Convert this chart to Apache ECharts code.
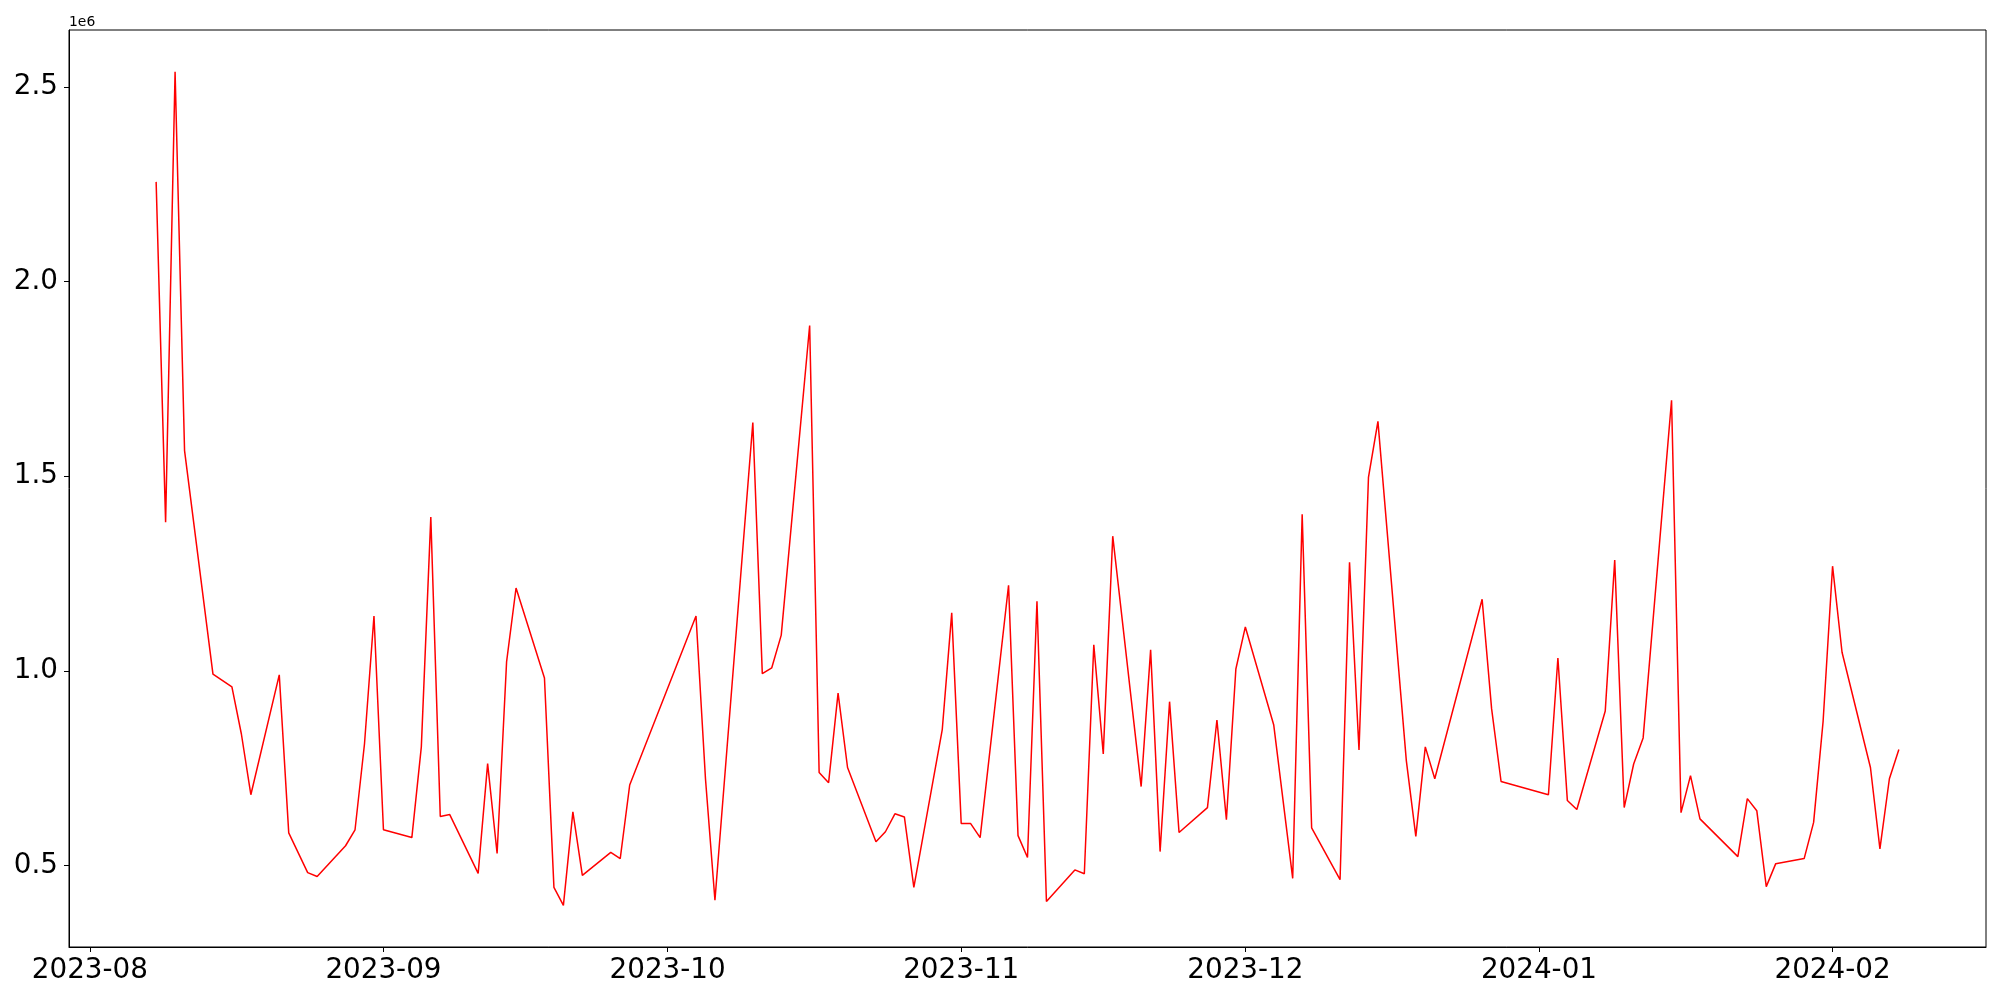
<!DOCTYPE html>
<html>
<head>
<meta charset="utf-8">
<script src="https://cdn.jsdelivr.net/npm/echarts@6/dist/echarts.min.js"></script>
<style>
  html, body { margin: 0; padding: 0; background: #fff; }
  #chart { width: 2000px; height: 1000px; }
</style>
</head>
<body>
<div id="chart"></div>
<script>
const dates = [
  '2023-08-08','2023-08-09','2023-08-10','2023-08-11','2023-08-14','2023-08-16','2023-08-17','2023-08-18',
  '2023-08-21','2023-08-22','2023-08-24','2023-08-25','2023-08-28','2023-08-29','2023-08-30','2023-08-31',
  '2023-09-01','2023-09-04','2023-09-05','2023-09-06','2023-09-07','2023-09-08','2023-09-11','2023-09-12',
  '2023-09-13','2023-09-14','2023-09-15','2023-09-18','2023-09-19','2023-09-20','2023-09-21','2023-09-22',
  '2023-09-25','2023-09-26','2023-09-27','2023-10-04','2023-10-05','2023-10-06','2023-10-10','2023-10-11',
  '2023-10-12','2023-10-13','2023-10-16','2023-10-17','2023-10-18','2023-10-19','2023-10-20','2023-10-23',
  '2023-10-24','2023-10-25','2023-10-26','2023-10-27','2023-10-30','2023-10-31','2023-11-01','2023-11-02',
  '2023-11-03','2023-11-06','2023-11-07','2023-11-08','2023-11-09','2023-11-10','2023-11-13','2023-11-14',
  '2023-11-15','2023-11-16','2023-11-17','2023-11-20','2023-11-21','2023-11-22','2023-11-23','2023-11-24',
  '2023-11-27','2023-11-28','2023-11-29','2023-11-30','2023-12-01','2023-12-04','2023-12-06','2023-12-07',
  '2023-12-08','2023-12-11','2023-12-12','2023-12-13','2023-12-14','2023-12-15','2023-12-18','2023-12-19',
  '2023-12-20','2023-12-21','2023-12-26','2023-12-27','2023-12-28','2024-01-02','2024-01-03','2024-01-04',
  '2024-01-05','2024-01-08','2024-01-09','2024-01-10','2024-01-11','2024-01-12','2024-01-15','2024-01-16',
  '2024-01-17','2024-01-18','2024-01-22','2024-01-23','2024-01-24','2024-01-25','2024-01-26','2024-01-29',
  '2024-01-30','2024-01-31','2024-02-01','2024-02-02','2024-02-05','2024-02-06','2024-02-07','2024-02-08'
];
const values = [
  2256000,1382000,2539000,1566000,992000,959000,838000,682000,
  990000,584000,482000,472000,551000,592000,813000,1141000,
  592000,572000,805000,1395000,626000,631000,480000,762000,
  531000,1023000,1213000,982000,444000,398000,638000,475000,
  534000,518000,707000,1141000,723000,411000,1638000,993000,
  1008000,1092000,1887000,739000,713000,943000,752000,561000,
  587000,633000,625000,444000,849000,1149000,608000,608000,
  572000,1220000,577000,521000,1179000,408000,489000,479000,
  1067000,787000,1346000,703000,1054000,536000,921000,585000,
  649000,874000,618000,1005000,1113000,861000,467000,1402000,
  597000,464000,1279000,797000,1497000,1641000,769000,575000,
  805000,723000,1184000,903000,716000,682000,1033000,667000,
  644000,897000,1285000,649000,761000,828000,1695000,636000,
  731000,620000,523000,672000,641000,446000,505000,518000,
  611000,870000,1269000,1048000,752000,543000,723000,798000
];
const xTickDates = ['2023-08-01','2023-09-01','2023-10-01','2023-11-01','2023-12-01','2024-01-01','2024-02-01'];
const xTickLabels = ['2023-08','2023-09','2023-10','2023-11','2023-12','2024-01','2024-02'];
const yTickValues = [500000, 1000000, 1500000, 2000000, 2500000];
const yTickLabels = ['0.5', '1.0', '1.5', '2.0', '2.5'];
const yOffsetText = '1e6';

const times = dates.map(d => Date.parse(d));
const xTicks = xTickDates.map(d => Date.parse(d));
const tMin = Math.min(...times), tMax = Math.max(...times);
const vMin = Math.min(...values), vMax = Math.max(...values);
const xPad = (tMax - tMin) * 0.05, yPad = (vMax - vMin) * 0.05;

const FONT = 'DejaVu Sans';
const chart = echarts.init(document.getElementById('chart'), null, { renderer: 'canvas' });
chart.setOption({
  animation: false,
  backgroundColor: '#ffffff',
  grid: {
    left: 69, top: 30, right: 14, bottom: 53,
    show: true, borderColor: '#000', borderWidth: 1, backgroundColor: 'transparent'
  },
  xAxis: {
    type: 'value',
    min: tMin - xPad,
    max: tMax + xPad,
    splitLine: { show: false },
    axisLine: { show: true, onZero: false, lineStyle: { color: '#000', width: 1 } },
    axisTick: { show: true, length: 5, lineStyle: { color: '#000', width: 1 }, customValues: xTicks },
    axisLabel: {
      customValues: xTicks,
      color: '#000', fontFamily: FONT, fontSize: 27.8, margin: 10,
      formatter: function (v) {
        const i = xTicks.indexOf(v);
        return i >= 0 ? xTickLabels[i] : '';
      }
    }
  },
  yAxis: {
    type: 'value',
    min: vMin - yPad,
    max: vMax + yPad,
    name: yOffsetText,
    nameLocation: 'end',
    nameGap: 0.5,
    nameTextStyle: { color: '#000', fontFamily: FONT, fontSize: 13.9, align: 'left', verticalAlign: 'bottom' },
    splitLine: { show: false },
    axisLine: { show: true, onZero: false, lineStyle: { color: '#000', width: 1 } },
    axisTick: { show: true, length: 5, lineStyle: { color: '#000', width: 1 }, customValues: yTickValues },
    axisLabel: {
      customValues: yTickValues,
      color: '#000', fontFamily: FONT, fontSize: 27.8, margin: 11,
      formatter: function (v) {
        const i = yTickValues.indexOf(v);
        return i >= 0 ? yTickLabels[i] : '';
      }
    }
  },
  series: [{
    type: 'line',
    data: times.map((t, i) => [t, values[i]]),
    showSymbol: false,
    symbol: 'none',
    lineStyle: { color: '#ff0000', width: 1.5 },
    itemStyle: { color: '#ff0000' },
    emphasis: { disabled: true }
  }]
});
</script>
</body>
</html>
